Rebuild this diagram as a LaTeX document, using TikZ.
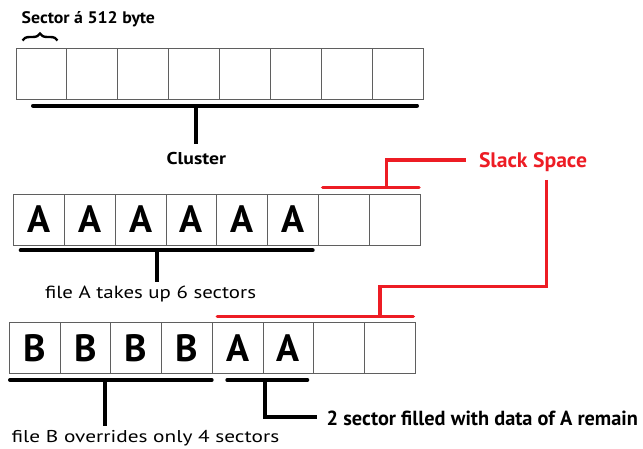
\documentclass[tikz,border=0pt]{standalone}
\usepackage{fontspec}
\setmainfont{PT Sans}
\usetikzlibrary{decorations.pathreplacing}
\definecolor{slackred}{RGB}{237,28,36}
\definecolor{cellgray}{RGB}{95,95,95}
\newcommand{\fitw}[2]{\resizebox{#1pt}{\height}{#2}}
\begin{document}
\begin{tikzpicture}[x=1pt,y=-1pt,
  cell/.style={draw=cellgray,line width=0.9pt,minimum width=#1,minimum height=51pt,
    inner sep=0pt,outer sep=0pt,anchor=north west,
    font=\fontsize{38}{38}\selectfont\bfseries},
  cell/.default=50.9pt,
  lbl/.style={inner sep=0pt,outer sep=0pt,anchor=base west},
  bar/.style={line width=4pt,line cap=round,black},
  redbar/.style={line width=3.5pt,line cap=round,line join=miter,slackred},
  stem/.style={line width=4pt,black,line join=miter}]
\useasboundingbox (0,0) rectangle (643,449);

% ---------- row 1 ----------
\foreach \i in {0,...,7}
  \node[cell=50.875pt] (ra\i) at (16+\i*50.875,48) {};
\node[lbl,font=\fontsize{16.7}{18}\selectfont\bfseries] (sector) at (21.7,23.3) {\fitw{133.3}{Sector á 512 byte}};
\draw[line width=2.4pt,decorate,decoration={brace,amplitude=7pt}] (22.5,40.5) -- (57.5,40.5);
\coordinate (b1l) at (33,105.7);
\coordinate (b1r) at (417,105.7);
\coordinate (b1m) at (196,105.7);
\coordinate (b1e) at (196,144.3);
\draw[bar] (b1l) -- (b1r);
\draw[stem] (b1m) -- (b1e);
\node[lbl,font=\fontsize{17.1}{19}\selectfont\bfseries] (cluster) at (166.7,165) {\fitw{59.3}{Cluster}};

% ---------- row 2 ----------
\foreach \l [count=\i from 0] in {A,A,A,A,A,A,{},{}}
  \node[cell=50.9pt] (rb\i) at (13.3+\i*50.9,194) {\l};
\coordinate (b2l) at (20.7,250.3);
\coordinate (b2r) at (312.7,250.3);
\coordinate (b2m) at (156.7,250.3);
\coordinate (b2e) at (156.7,281.7);
\draw[bar] (b2l) -- (b2r);
\draw[stem] (b2m) -- (b2e);
\node[lbl,font=\fontsize{17.6}{19}\selectfont] (fileA) at (45,298.3) {\fitw{211}{file A takes up 6 sectors}};

% slack space
\node[lbl,font=\fontsize{21}{23}\selectfont\bfseries,text=slackred] (slack) at (479,167.3) {\fitw{108}{Slack Space}};
\coordinate (s1l) at (322.7,187.7);
\coordinate (s1r) at (419,187.7);
\coordinate (s1m) at (386.7,187.7);
\coordinate (s1t) at (386.7,160);
\coordinate (s1e) at (465.7,160);
\draw[redbar] (s1l) -- (s1r);
\draw[redbar,line cap=butt] (s1m) -- (s1t) -- (s1e);
\coordinate (s2s) at (546.7,180);
\coordinate (s2a) at (546.7,286.7);
\coordinate (s2b) at (380,286.7);
\coordinate (s2m) at (380,316.7);
\coordinate (s2l) at (217.3,316.7);
\coordinate (s2r) at (413.3,316.7);
\draw[redbar,line cap=butt] (s2s) -- (s2a) -- (s2b) -- (s2m);
\draw[redbar] (s2l) -- (s2r);

% ---------- row 3 ----------
\foreach \l [count=\i from 0] in {B,B,B,B,A,A,{},{}}
  \node[cell=50.75pt,minimum height=50.6pt] (rc\i) at (9.3+\i*50.75,322.7) {\l};
\coordinate (b3l) at (10,380);
\coordinate (b3r) at (211.7,380);
\coordinate (b3m) at (105,380);
\coordinate (b3e) at (105,426);
\draw[bar] (b3l) -- (b3r);
\draw[stem] (b3m) -- (b3e);
\node[lbl,font=\fontsize{17.1}{19}\selectfont] (fileB) at (11.7,442.7) {\fitw{267.5}{file B overrides only 4 sectors}};

\coordinate (b4l) at (227.3,380);
\coordinate (b4r) at (307.3,380);
\coordinate (b4m) at (265,380);
\coordinate (b4c) at (265,416.7);
\coordinate (b4e) at (317,416.7);
\draw[bar] (b4l) -- (b4r);
\draw[stem] (b4m) -- (b4c) -- (b4e);
\node[lbl,font=\fontsize{20.4}{22}\selectfont\bfseries] (remain) at (326.7,425) {\fitw{311.3}{2 sector filled with data of A remain}};
\end{tikzpicture}
\end{document}
